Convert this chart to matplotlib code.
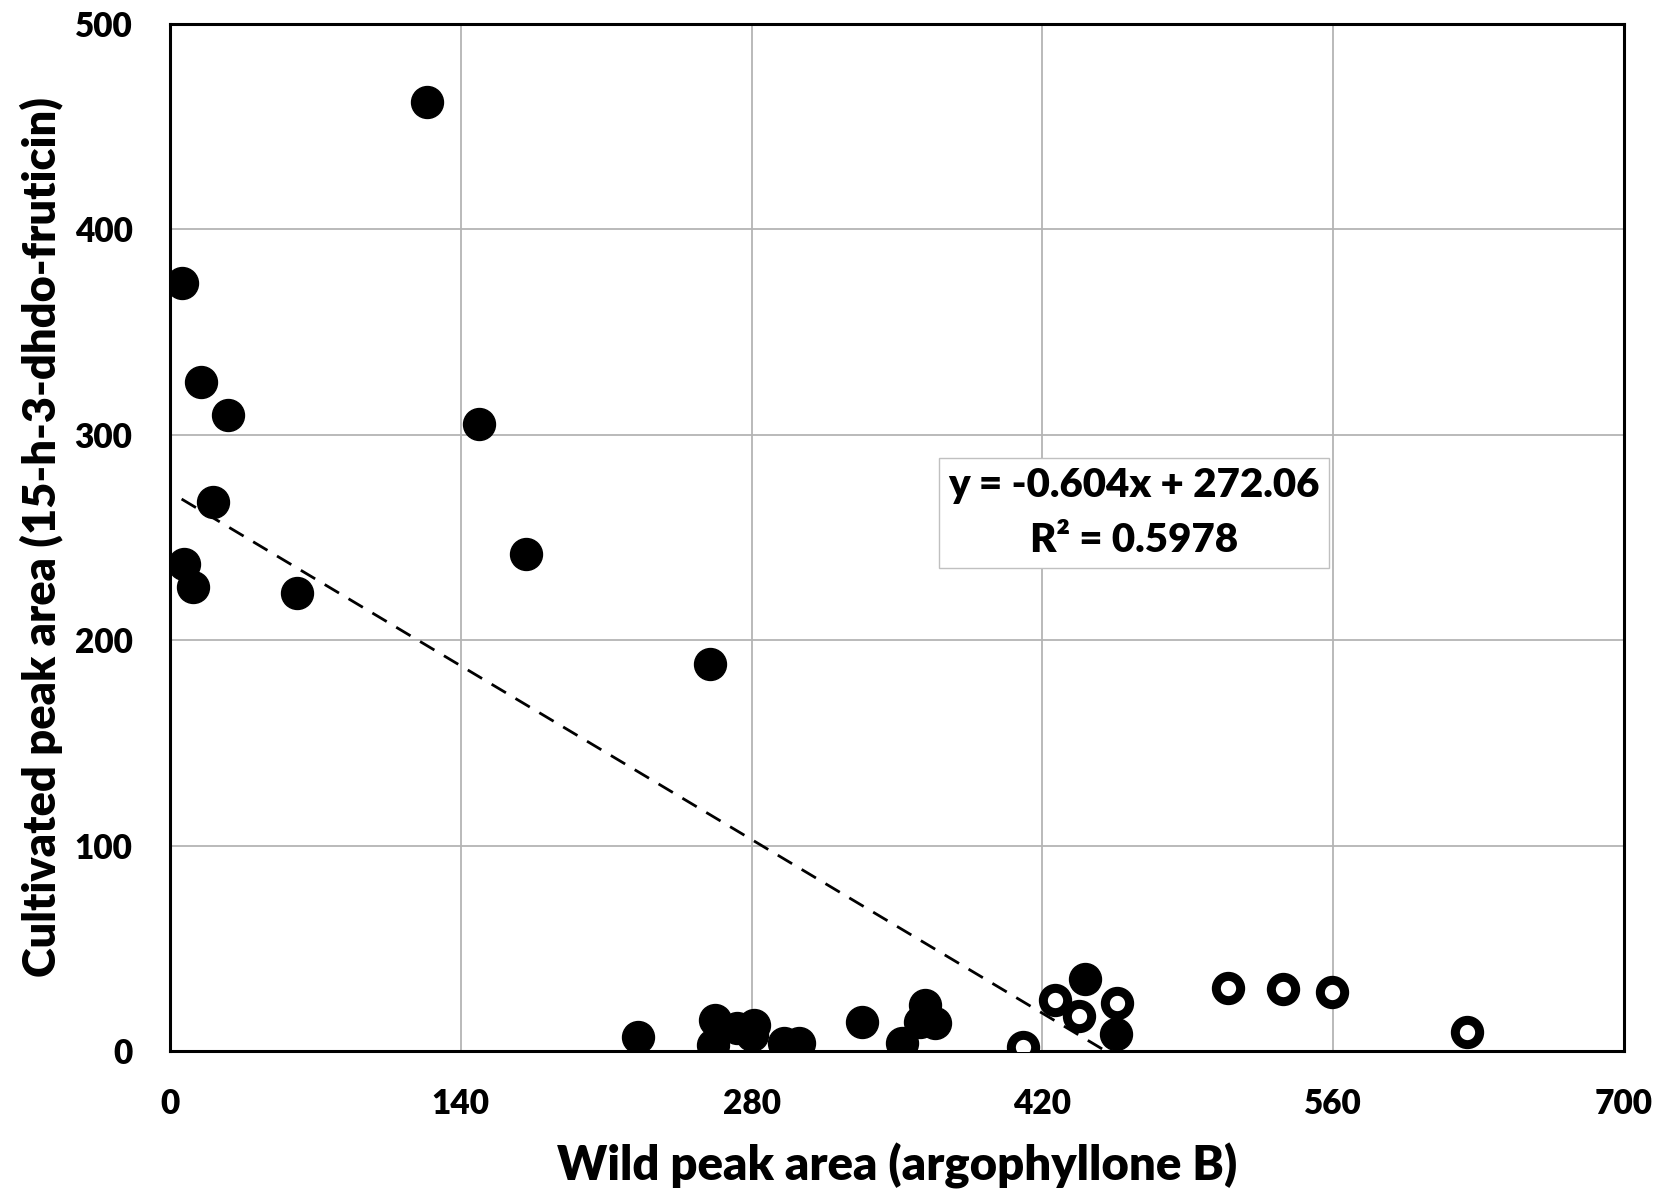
import numpy as np
import matplotlib.pyplot as plt

# filled points (wild, cultivated)
wild_filled = [123.8, 5.6, 14.9, 27.7, 149.0, 20.5, 6.7, 11.3, 61.0, 171.5, 260.0,
               225.3, 262.2, 261.2, 272.9, 281.0, 280.0, 295.4, 302.6, 333.0, 352.4,
               363.6, 361.2, 368.5, 440.6, 455.5]
cult_filled = [462.0, 374.0, 325.5, 309.5, 305.0, 267.0, 237.0, 226.0, 223.0, 242.0, 188.5,
               7.0, 15.1, 2.9, 11.0, 12.7, 8.0, 3.7, 3.7, 14.3, 3.7,
               22.4, 14.3, 13.5, 34.9, 8.1]

# open points
wild_open = [410.9, 426.1, 437.7, 456.1, 509.6, 536.0, 559.3, 624.3]
cult_open = [2.1, 24.8, 17.0, 23.2, 30.8, 30.2, 28.9, 9.4]

slope = -0.604
intercept = 272.06
eq_text = "y = -0.604x + 272.06\nR² = 0.5978"

x_ticks = [0, 140, 280, 420, 560, 700]
y_ticks = [0, 100, 200, 300, 400, 500]

plt.rcParams['font.family'] = ['Lato', 'DejaVu Sans']
plt.rcParams['font.weight'] = 'heavy'

fig = plt.figure(figsize=(16.73, 11.92), dpi=100)
ax = fig.add_axes([0.1016, 0.1183, 0.8691, 0.8617])

ax.grid(True, color='#b4b4b4', linewidth=1.3, zorder=0)
ax.set_axisbelow(True)

# trend line over the data range (clipped at y=0 by the axes)
all_x = wild_filled + wild_open
xs = np.array([min(all_x), max(all_x)])
ax.plot(xs, slope * xs + intercept, linestyle=(0, (6, 4)), color='black', linewidth=2, zorder=2)

ax.plot(wild_filled, cult_filled, 'o', markersize=23, color='black', zorder=3)
ax.plot(wild_open, cult_open, 'o', markersize=17.5, markerfacecolor='white',
        markeredgecolor='black', markeredgewidth=6.5, zorder=3)

ax.set_xlim(0, 700)
ax.set_ylim(0, 500)
ax.set_xticks(x_ticks)
ax.set_yticks(y_ticks)
ax.tick_params(length=0, labelsize=24, pad=27)
for lab in ax.get_xticklabels() + ax.get_yticklabels():
    lab.set_fontweight('heavy')

for sp in ax.spines.values():
    sp.set_linewidth(2.2)
    sp.set_color('black')

ax.set_xlabel("Wild peak area (argophyllone B)", fontsize=34, fontweight='heavy', labelpad=16)
ax.set_ylabel("Cultivated peak area (15-h-3-dhdo-fruticin)", fontsize=32.5, fontweight='heavy', labelpad=8)

ax.text(0.663, 0.524, eq_text, transform=ax.transAxes, ha='center', va='center',
        fontsize=29, fontweight='heavy', linespacing=1.6,
        bbox=dict(boxstyle='square,pad=0.22', facecolor='white', edgecolor='#c0c0c0', linewidth=1))

fig.savefig('out.png', dpi=100)
